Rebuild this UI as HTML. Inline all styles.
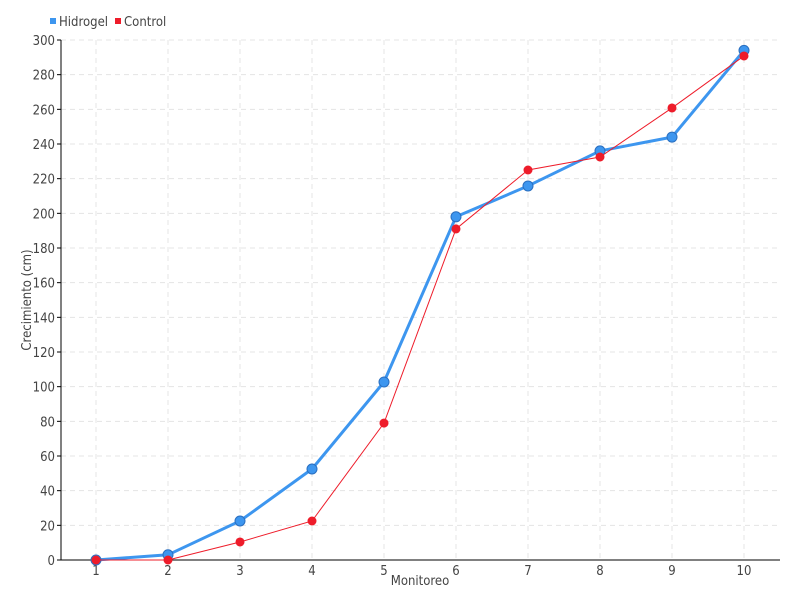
<!DOCTYPE html>
<html><head><meta charset="utf-8"><style>
body{margin:0;background:#fff}
svg{display:block;font-family:"Liberation Sans Narrow","DejaVu Sans Condensed","Liberation Sans",sans-serif}
</style></head><body>
<svg width="800" height="600" viewBox="0 0 800 600">
<g id="grid" stroke="#e4e4e4" stroke-dasharray="5,4" stroke-width="1"></g>
<g id="axes"></g>
<g id="series"></g>
<rect x="50" y="18" width="6" height="6" fill="#3d96ef"/>
<text x="59" y="26" font-size="13" fill="#444">Hidrogel</text>
<rect x="115" y="18" width="6" height="6" fill="#ee1c2a"/>
<text x="124" y="26" font-size="13" fill="#444">Control</text>
<text x="420" y="585" font-size="13" fill="#444" text-anchor="middle">Monitoreo</text>
<text transform="translate(31,300) rotate(-90)" font-size="13" fill="#444" text-anchor="middle">Crecimiento (cm)</text>
</svg>
<script>
const ns="http://www.w3.org/2000/svg";
function el(t,a,p,txt){const e=document.createElementNS(ns,t);for(const k in a)e.setAttribute(k,a[k]);if(txt!==undefined)e.textContent=txt;document.getElementById(p).appendChild(e);return e;}
const Y=v=>560-v*520/300, X=i=>96+72*i;
for(let v=0;v<=300;v+=20){const y=Y(v);
 if(v>0)el('line',{x1:61,x2:780,y1:y,y2:y},'grid');
 el('line',{x1:57,x2:61,y1:y,y2:y,stroke:'#000'},'axes');
 el('text',{x:55,y:y+5,'font-size':13,fill:'#444','text-anchor':'end'},'axes',v);}
for(let i=0;i<10;i++){el('line',{x1:X(i),x2:X(i),y1:40,y2:560},'grid');
 el('text',{x:X(i),y:575,'font-size':13,fill:'#444','text-anchor':'middle'},'axes',i+1);}
el('line',{x1:61,x2:61,y1:40,y2:560,stroke:'#000'},'axes');
el('line',{x1:61,x2:780,y1:560,y2:560,stroke:'#000'},'axes');
const h=[0,3,22.5,52.5,102.7,198,215.8,236,244,294];
const c=[0,0,10.4,22.5,79,191,225,232.5,260.8,290.8];
const pts=d=>d.map((v,i)=>X(i)+','+Y(v)).join(' ');
el('polyline',{points:pts(h),fill:'none',stroke:'#3d96ef','stroke-width':3},'series');
h.forEach((v,i)=>el('circle',{cx:X(i),cy:Y(v),r:5,fill:'#3d96ef',stroke:'#2a6fc0','stroke-width':1},'series'));
el('polyline',{points:pts(c),fill:'none',stroke:'#ee1c2a','stroke-width':1},'series');
c.forEach((v,i)=>el('circle',{cx:X(i),cy:Y(v),r:4.5,fill:'#ee1c2a'},'series'));
</script>
</body></html>
